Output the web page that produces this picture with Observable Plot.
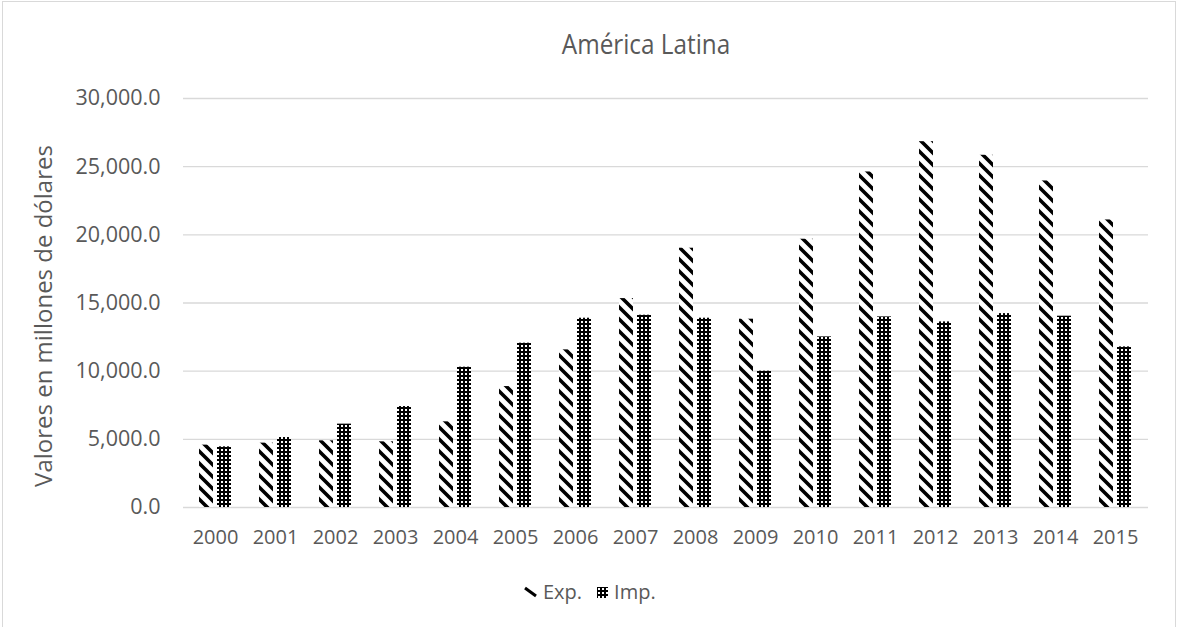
<!DOCTYPE html>
<html>
<head>
<meta charset="utf-8">
<script src="https://cdn.jsdelivr.net/npm/d3@7"></script>
<script src="https://cdn.jsdelivr.net/npm/@observablehq/plot@0.6"></script>
<style>
  html, body { margin: 0; padding: 0; background: #fff; }
  #wrap { position: relative; width: 1180px; height: 627px; overflow: hidden; font-family: "Open Sans", sans-serif; color: #595959; }
  #border { position: absolute; left: 2px; top: 1px; width: 1174px; height: 700px; border: 1px solid #d9d9d9; box-sizing: border-box; }
  #chart { position: absolute; left: 0; top: 0; }
  #title { position: absolute; left: 646px; top: 26px; transform: translateX(-50%) scaleX(0.9); white-space: nowrap; font-size: 27px; line-height: 36px; }
  #ylabel { position: absolute; left: 42px; top: 316px; transform: translate(-50%, -50%) rotate(-90deg); white-space: nowrap; font-size: 24px; }
  #legend { position: absolute; top: 580px; left: 524px; display: flex; align-items: center; font-size: 20px; line-height: 24px; }
  #legend .item { display: flex; align-items: center; margin-right: 15px; }
  #legend svg { margin-right: 6px; }
</style>
</head>
<body>
<svg width="0" height="0" style="position:absolute">
  <defs>
    <pattern id="patExp" patternUnits="userSpaceOnUse" width="12" height="12">
      <rect width="12" height="12" fill="#fff"/>
      <path d="M-3,-3 L15,15 M-3,9 L3,15 M9,-3 L15,3" stroke="#000" stroke-width="3.6"/>
    </pattern>
    <pattern id="patImp" patternUnits="userSpaceOnUse" width="4" height="4">
      <rect width="4" height="4" fill="#000"/>
      <rect x="1" y="1" width="2" height="2" fill="#fff"/>
    </pattern>
  </defs>
</svg>
<div id="wrap">
  <div id="border"></div>
  <div id="chart"></div>
  <div id="title">América Latina</div>
  <div id="ylabel">Valores en millones de dólares</div>
  <div id="legend"></div>
</div>
<script>
const years = ["2000","2001","2002","2003","2004","2005","2006","2007","2008","2009","2010","2011","2012","2013","2014","2015"];
const expValues = [4575, 4721, 4890, 4817, 6283, 8871, 11562, 15323, 19018, 13812, 19677, 24611, 26833, 25835, 23952, 21092];
const impValues = [4450, 5132, 6114, 7405, 10293, 12053, 13886, 14105, 13886, 10000, 12515, 13981, 13614, 14223, 14032, 11781];
const seriesNames = ["Exp.", "Imp."];
const yTicks = [0, 5000, 10000, 15000, 20000, 25000, 30000];

const expData = years.map((year, i) => ({year, series: seriesNames[0], value: expValues[i]}));
const impData = years.map((year, i) => ({year, series: seriesNames[1], value: impValues[i]}));
const fmt = d3.format(",.1f");

const chart = Plot.plot({
  width: 1180,
  height: 560,
  marginTop: 98,
  marginBottom: 53,
  marginLeft: 183,
  marginRight: 32,
  style: { fontFamily: "Open Sans, sans-serif", fontSize: "20px", color: "#595959", background: "transparent", overflow: "visible" },
  x: { domain: years, paddingInner: 0.46, paddingOuter: 0.23, label: null, tickSize: 0, tickPadding: 22 },
  y: { domain: [0, 30000], ticks: yTicks, tickFormat: fmt, label: null, tickSize: 0, tickPadding: 23 },
  marks: [
    Plot.ruleY(yTicks, { stroke: "#d9d9d9", strokeWidth: 1.3 }),
    Plot.barY(expData, { x: "year", y: "value", fill: "url(#patExp)", insetRight: 18 }),
    Plot.barY(impData, { x: "year", y: "value", fill: "url(#patImp)", insetLeft: 18 })
  ]
});
// slightly larger y tick labels, like the reference
chart.querySelectorAll("[aria-label='y-axis tick label']").forEach(g => g.style.fontSize = "21.5px");
document.getElementById("chart").appendChild(chart);

const legend = document.getElementById("legend");
legend.innerHTML = `
  <div class="item"><svg width="13" height="12"><path d="M1,2 L12,10" stroke="#000" stroke-width="3"/></svg><span>${seriesNames[0]}</span></div>
  <div class="item"><svg width="11" height="11"><rect width="11" height="11" fill="url(#patImp)"/></svg><span>${seriesNames[1]}</span></div>`;
</script>
</body>
</html>
